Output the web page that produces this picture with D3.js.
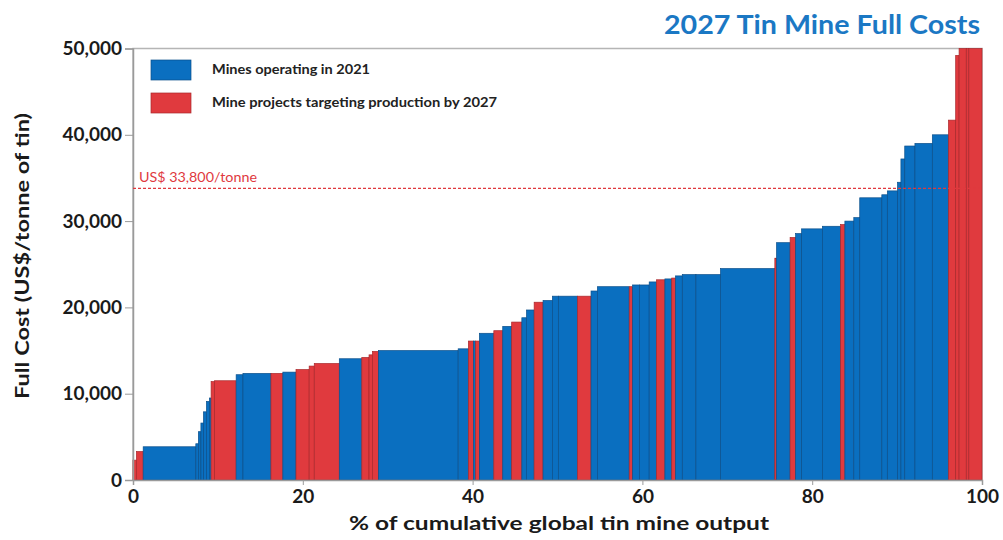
<!DOCTYPE html>
<html>
<head>
<meta charset="utf-8">
<script src="https://cdn.jsdelivr.net/npm/d3@7"></script>
<style>
  body { margin: 0; background: #fff; }
  text { font-family: Lato, "Open Sans", sans-serif; }
</style>
</head>
<body>
<script>
// share of global output (%) for each mine, in cost order
var shares = [0.4, 0.8, 6.2, 0.3, 0.3, 0.3, 0.35, 0.35, 0.2,
  0.4, 2.55, 0.8, 3.3, 1.4, 1.55, 1.55, 0.6, 2.95,
  2.65, 0.85, 0.4, 0.7, 9.4, 1.2,
  0.6, 0.25, 0.45, 1.7, 1.05, 1.05, 1.2, 0.55, 0.9, 1.05, 1.1,
  0.7, 2.25, 1.6, 0.75, 3.75, 0.4, 0.8, 1.15, 0.85,
  1.0, 0.8, 0.45, 0.8, 1.6, 2.9, 6.4,
  0.2, 1.6, 0.65, 0.7, 2.45, 2.15, 0.5, 1.05, 0.7,
  2.6, 0.65, 1.2, 0.4, 0.45, 1.2, 2.05, 1.9,
  0.85, 0.4, 0.85, 0.3, 1.55];

// full cost US$/tonne
var costs = [2300, 3300, 3850, 4200, 5600, 6600, 7900, 9100, 9500,
  11400, 11500, 12200, 12350, 12350, 12500, 12800, 13200, 13500,
  14050, 14200, 14500, 14900, 15000, 15200,
  16100, 16100, 16100, 17000, 17300, 17800, 18300, 18800, 19700, 20600, 20800,
  21300, 21300, 21300, 21900, 22400, 22400, 22600, 22600, 22950,
  23200, 23300, 23400, 23650, 23800, 23800, 24500,
  25700, 27500, 28100, 28550, 29100, 29400, 29600, 30000, 30400,
  32700, 33050, 33500, 34500, 37200, 38700, 39000, 40000,
  41700, 49200, 50000, 50000, 50000];

// O = operating in 2021, P = project by 2027
var kinds = ["P", "P", "O", "O", "O", "O", "O", "O", "O",
  "P", "P", "O", "O", "P", "O", "P", "P", "P",
  "O", "P", "P", "P", "O", "O",
  "P", "O", "P", "O", "P", "O", "P", "O", "O", "P", "O",
  "O", "O", "P", "O", "O", "P", "O", "O", "O",
  "P", "O", "P", "O", "O", "O", "O",
  "P", "O", "P", "O", "O", "O", "P", "O", "O",
  "O", "O", "O", "O", "O", "O", "O", "O",
  "P", "P", "P", "P", "P"];

var xTicks = [0, 20, 40, 60, 80, 100];
var yTicks = [0, 10000, 20000, 30000, 40000, 50000];
var priceLine = 33800;

var legendLabels = ["Mines operating in 2021", "Mine projects targeting production by 2027"];
var fills = {O: "#0a6fc0", P: "#e03a3e"};
var edges = {O: "#0b4f8a", P: "#a8282c"};

var width = 1003, height = 540;
var margin = {left: 133, right: 21, top: 48.5, bottom: 60};

var svg = d3.select("body").append("svg")
  .attr("width", width)
  .attr("height", height);

var x = d3.scaleLinear().domain([0, 100]).range([margin.left, width - margin.right]);
var y = d3.scaleLinear().domain([0, 50000]).range([height - margin.bottom, margin.top]);

// build bars
var ends = d3.cumsum(shares);
var bars = shares.map(function(s, i) {
  return {x0: ends[i] - s, x1: ends[i], cost: costs[i], kind: kinds[i]};
});

// frame
svg.append("rect")
  .attr("x", x(0)).attr("y", y(50000))
  .attr("width", x(100) - x(0)).attr("height", y(0) - y(50000))
  .attr("fill", "none").attr("stroke", "#b5b5b5").attr("stroke-width", 1.5);

svg.append("g").selectAll("rect")
  .data(bars)
  .join("rect")
  .attr("x", function(d) { return x(d.x0); })
  .attr("y", function(d) { return y(d.cost); })
  .attr("width", function(d) { return x(d.x1) - x(d.x0); })
  .attr("height", function(d) { return y(0) - y(d.cost); })
  .attr("fill", function(d) { return fills[d.kind]; })
  .attr("stroke", function(d) { return edges[d.kind]; })
  .attr("stroke-width", 0.7);

// axes
var yAxis = d3.axisLeft(y).tickValues(yTicks).tickSize(8).tickPadding(3)
  .tickFormat(d3.format(","));
var gy = svg.append("g").attr("transform", "translate(" + x(0) + ",0)").call(yAxis);
gy.select(".domain").attr("stroke", "#9a9a9a").attr("stroke-width", 1.5);
gy.selectAll(".tick line").attr("stroke", "#9a9a9a");
gy.selectAll(".tick text")
  .attr("font-size", 19).attr("font-weight", "bold").attr("fill", "#1a1a1a")
  .style("font-family", "Lato, sans-serif");

var xAxis = d3.axisBottom(x).tickValues(xTicks).tickSize(5).tickPadding(5);
var gx = svg.append("g").attr("transform", "translate(0," + y(0) + ")").call(xAxis);
gx.select(".domain").attr("stroke", "#9a9a9a").attr("stroke-width", 1.5);
gx.selectAll(".tick line").attr("stroke", "#9a9a9a");
gx.selectAll(".tick text")
  .attr("font-size", 19).attr("font-weight", "bold").attr("fill", "#1a1a1a")
  .style("font-family", "Lato, sans-serif");

// price line
svg.append("line")
  .attr("x1", x(0)).attr("x2", x(100))
  .attr("y1", y(priceLine)).attr("y2", y(priceLine))
  .attr("stroke", "#e0393e").attr("stroke-width", 1.2)
  .attr("stroke-dasharray", "3,2");

svg.append("text")
  .attr("x", x(0) + 6).attr("y", y(priceLine) - 6)
  .attr("font-size", 13.5).attr("fill", "#e0393e")
  .attr("textLength", 118).attr("lengthAdjust", "spacingAndGlyphs")
  .text("US$ " + d3.format(",")(priceLine) + "/tonne");

// title
svg.append("text")
  .attr("x", 980).attr("y", 34)
  .attr("text-anchor", "end")
  .attr("font-size", 26).attr("font-weight", "bold").attr("fill", "#1b78c4")
  .attr("textLength", 316).attr("lengthAdjust", "spacingAndGlyphs")
  .text("2027 Tin Mine Full Costs");

// axis titles
svg.append("text")
  .attr("x", 559).attr("y", 530)
  .attr("text-anchor", "middle")
  .attr("font-size", 19).attr("font-weight", "bold").attr("fill", "#1a1a1a")
  .attr("textLength", 420).attr("lengthAdjust", "spacingAndGlyphs")
  .text("% of cumulative global tin mine output");

svg.append("text")
  .attr("transform", "translate(29,256) rotate(-90)")
  .attr("text-anchor", "middle")
  .attr("font-size", 19).attr("font-weight", "bold").attr("fill", "#1a1a1a")
  .attr("textLength", 286).attr("lengthAdjust", "spacingAndGlyphs")
  .text("Full Cost (US$/tonne of tin)");

// legend
var legendWidths = [158, 285];
var legend = svg.append("g").attr("transform", "translate(151,60)");
["O", "P"].forEach(function(k, i) {
  legend.append("rect")
    .attr("x", 0).attr("y", i * 33)
    .attr("width", 40).attr("height", 20)
    .attr("fill", fills[k]).attr("stroke", edges[k]).attr("stroke-width", 0.7);
  legend.append("text")
    .attr("x", 61).attr("y", i * 33 + 14)
    .attr("font-size", 13).attr("font-weight", "bold").attr("fill", "#222")
    .attr("textLength", legendWidths[i]).attr("lengthAdjust", "spacingAndGlyphs")
    .text(legendLabels[i]);
});
</script>
</body>
</html>
